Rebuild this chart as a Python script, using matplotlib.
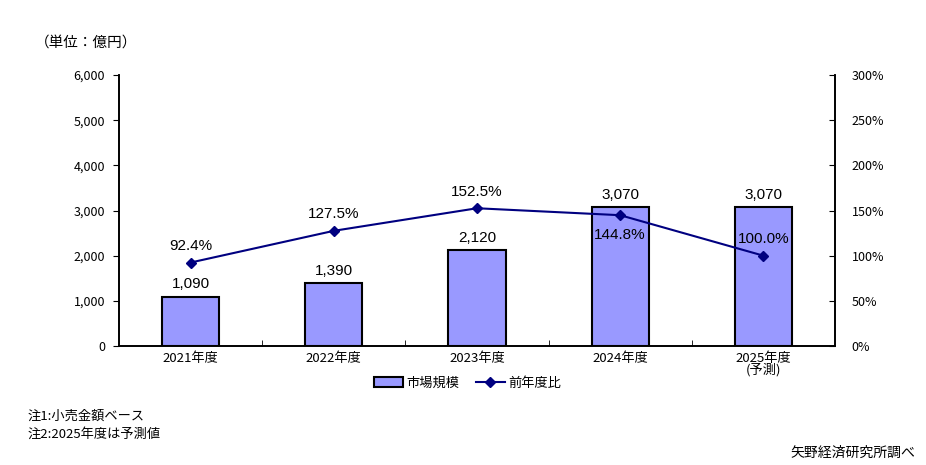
import matplotlib
matplotlib.use('Agg')
import matplotlib.pyplot as plt
import numpy as np

plt.rcParams['font.family'] = ['Noto Sans CJK JP', 'DejaVu Sans']

# data
years = ['2021年度', '2022年度', '2023年度', '2024年度', '2025年度\n(予測)']
market = [1090, 1390, 2120, 3070, 3070]
ratio = [92.4, 127.5, 152.5, 144.8, 100.0]
ratio_below = [False, False, False, True, False]

bar_color = '#9999FF'
line_color = '#000080'
label_font = ['Liberation Sans', 'DejaVu Sans']

fig = plt.figure(figsize=(9.26, 4.65), dpi=100)
ax = fig.add_axes([0.1285, 0.2559, 0.7732, 0.5828])
ax2 = ax.twinx()

x = np.arange(len(years))
bars = ax.bar(x, market, width=0.4, color=bar_color, edgecolor='black', linewidth=1.5, label='市場規模', zorder=2)
ax.set_xlim(-0.5, len(years) - 0.5)
ax.set_ylim(0, 6000)
ax.set_yticks(range(0, 6001, 1000))
ax.set_yticklabels([f'{v:,}' for v in range(0, 6001, 1000)], fontsize=9)
ax.set_xticks(x)
ax.set_xticklabels(years, fontsize=9.5, linespacing=0.85)
ax.tick_params(axis='x', length=0, pad=4)
ax.set_xticks(np.arange(0.5, len(years) - 0.5, 1), minor=True)
ax.tick_params(axis='x', which='minor', direction='in', length=4)
ax.tick_params(axis='y', direction='out', length=4, pad=6)

for xi, v in zip(x, market):
    ax.annotate(f'{v:,}', (xi, v), xytext=(0, 4), textcoords='offset points',
                ha='center', va='bottom', fontsize=11, family=label_font)

ax2.plot(x, ratio, color=line_color, marker='D', markersize=5, linewidth=1.5, label='前年度比', zorder=3)
ax2.set_ylim(0, 300)
ax2.set_yticks(range(0, 301, 50))
ax2.set_yticklabels([f'{v}%' for v in range(0, 301, 50)], fontsize=9)
ax2.tick_params(axis='y', direction='in', length=4, pad=12)

for xi, v, below in zip(x, ratio, ratio_below):
    if below:
        ax2.annotate(f'{v:.1f}%', (xi, v), xytext=(0, -9), textcoords='offset points',
                     ha='center', va='top', fontsize=11, family=label_font)
    else:
        ax2.annotate(f'{v:.1f}%', (xi, v), xytext=(0, 7), textcoords='offset points',
                     ha='center', va='bottom', fontsize=11, family=label_font)

for a in (ax, ax2):
    a.spines['top'].set_visible(False)
    for s in a.spines.values():
        s.set_linewidth(1.2)

h1, l1 = ax.get_legend_handles_labels()
h2, l2 = ax2.get_legend_handles_labels()
fig.legend(h1 + h2, l1 + l2, loc='center', bbox_to_anchor=(0.505, 0.176), ncol=2,
           frameon=False, fontsize=9.5, handlelength=2.2, columnspacing=1.2, handletextpad=0.3)

fig.text(0.038, 0.908, '（単位：億円）', fontsize=10.5, va='center')
fig.text(0.030, 0.105, '注1:小売金額ベース', fontsize=9.5, va='center')
fig.text(0.030, 0.066, '注2:2025年度は予測値', fontsize=9.5, va='center')
fig.text(0.988, 0.027, '矢野経済研究所調べ', fontsize=10, va='center', ha='right')

fig.savefig('out.png', dpi=100)
